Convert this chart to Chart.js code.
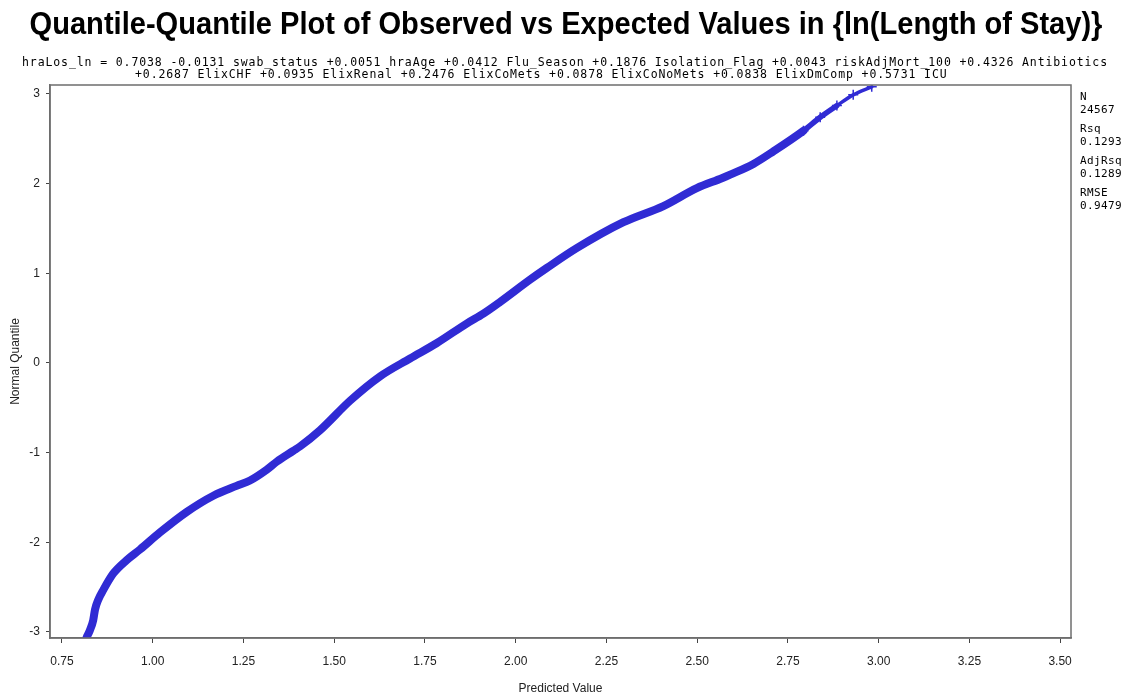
<!DOCTYPE html>
<html>
<head>
<meta charset="utf-8">
<title>Q-Q plot: ln(Length of Stay)</title>
<script src="https://cdn.jsdelivr.net/npm/chart.js@4.4.1/dist/chart.umd.min.js"></script>
<style>
  html, body { margin: 0; padding: 0; background: #ffffff; }
  canvas { display: block; }
</style>
</head>
<body>
<canvas id="qq" width="1131" height="696"></canvas>
<script>
// Sorted predicted values and the matching normal quantiles
const predictedValue = [0.818, 0.827, 0.836, 0.841, 0.850, 0.864, 0.891, 0.928, 0.965, 1.020,
                        1.094, 1.167, 1.231, 1.268, 1.314, 1.342, 1.387, 1.406, 1.461, 1.544,
                        1.626, 1.709, 1.782, 1.865, 1.911, 1.957, 2.040, 2.086, 2.168, 2.297,
                        2.407, 2.499, 2.568, 2.591, 2.655, 2.710, 2.793, 2.839, 2.885,
                        2.930, 2.981];
const normalQuantile = [-3.06, -2.98, -2.87, -2.75, -2.64, -2.53, -2.35, -2.20, -2.08, -1.89,
                        -1.66, -1.48, -1.37, -1.31, -1.19, -1.10, -0.98, -0.93, -0.75, -0.42,
                        -0.15, 0.05, 0.22, 0.44, 0.55, 0.68, 0.93, 1.06, 1.28, 1.57,
                        1.75, 1.95, 2.06, 2.10, 2.22, 2.36, 2.59, 2.74, 2.87,
                        2.99, 3.08];

const xTicks = [0.75, 1.00, 1.25, 1.50, 1.75, 2.00, 2.25, 2.50, 2.75, 3.00, 3.25, 3.50];
const yTicks = [-3, -2, -1, 0, 1, 2, 3];

const chartTitle = "Quantile-Quantile Plot of Observed vs Expected Values in {ln(Length of Stay)}";
const modelLines = [
  "hraLos_ln = 0.7038 -0.0131 swab_status +0.0051 hraAge +0.0412 Flu_Season +0.1876 Isolation_Flag +0.0043 riskAdjMort_100 +0.4326 Antibiotics",
  "+0.2687 ElixCHF +0.0935 ElixRenal +0.2476 ElixCoMets +0.0878 ElixCoNoMets +0.0838 ElixDmComp +0.5731 ICU"
];
const fitStatLabels = ["N", "Rsq", "AdjRsq", "RMSE"];
const fitStatValues = ["24567", "0.1293", "0.1289", "0.9479"];

const BLUE = "#302bd4";
const AXIS = "#6e6e6e";
const SANS = '"Liberation Sans", Arial, Helvetica, sans-serif';
const MONO = '"DejaVu Sans Mono", "Liberation Mono", monospace';

// Frame, title, model equation and fit statistics
const decorations = {
  id: "decorations",
  afterDraw(chart) {
    const c = chart.ctx;
    const a = chart.chartArea;
    c.save();

    c.strokeStyle = AXIS;
    c.lineWidth = 1.5;
    c.strokeRect(a.left, a.top, a.right - a.left, a.bottom - a.top);

    // title, sized to span the plot width
    c.fillStyle = "#000";
    c.font = "bold 100px " + SANS;
    const tw = c.measureText(chartTitle).width;
    const tSize = 100 * 1073 / tw;
    c.font = "bold " + tSize.toFixed(2) + "px " + SANS;
    c.textAlign = "center";
    c.textBaseline = "middle";
    c.save();
    c.translate(566, 25);
    c.scale(1, 1.1);
    c.fillText(chartTitle, 0, 0);
    c.restore();

    // model equation in two lines with a shared letter pitch
    c.font = "11.5px " + MONO;
    c.textAlign = "left";
    c.textBaseline = "middle";
    const natural = c.measureText(modelLines[0]).width;
    const spacing = (1086 - natural) / modelLines[0].length;
    c.letterSpacing = spacing.toFixed(3) + "px";
    const starts = [22, 135];
    const rows = [63, 75];
    modelLines.forEach((line, i) => c.fillText(line, starts[i], rows[i]));

    // fit statistics on the right
    c.font = "11px " + MONO;
    c.letterSpacing = "0.4px";
    let y = 97;
    fitStatLabels.forEach((lab, i) => {
      c.fillText(lab, a.right + 9, y);
      c.fillText(fitStatValues[i], a.right + 9, y + 13);
      y += 32;
    });
    c.restore();
  }
};

const points = predictedValue.map((x, i) => ({ x: x, y: normalQuantile[i] }));

new Chart(document.getElementById("qq"), {
  type: "scatter",
  data: {
    datasets: [{
      data: points,
      showLine: true,
      borderColor: BLUE,
      borderWidth: 8,
      borderCapStyle: "round",
      borderJoinStyle: "round",
      cubicInterpolationMode: "monotone",
      segment: {
        borderWidth: s => (s.p0.parsed.y > 2.85 ? 3.5 : (s.p0.parsed.y > 2.55 ? 5.5 : 8))
      },
      pointStyle: "cross",
      pointRadius: p => (p.raw && p.raw.y > 2.55 ? 5 : 0),
      pointHoverRadius: 0,
      pointBorderColor: BLUE,
      pointBorderWidth: 1.5
    }]
  },
  options: {
    responsive: false,
    animation: false,
    events: [],
    layout: { padding: { top: 85, right: 60, left: 0, bottom: 0 } },
    plugins: { legend: { display: false }, tooltip: { enabled: false } },
    scales: {
      x: {
        type: "linear",
        min: 0.717,
        max: 3.53,
        afterBuildTicks: s => { s.ticks = xTicks.map(v => ({ value: v })); },
        afterFit: s => { s.height = 58; },
        ticks: {
          callback: v => Number(v).toFixed(2),
          font: { family: SANS, size: 12 },
          color: "#222",
          padding: 11,
          maxRotation: 0,
          autoSkip: false
        },
        grid: { display: true, drawOnChartArea: false, drawTicks: true, tickLength: 5, color: "#444", lineWidth: 1 },
        border: { display: true, color: AXIS, width: 1.5 },
        title: { display: true, text: "Predicted Value", font: { family: SANS, size: 12 }, color: "#222", padding: { top: 0, bottom: 0 } }
      },
      y: {
        type: "linear",
        min: -3.067,
        max: 3.10,
        afterBuildTicks: s => { s.ticks = yTicks.map(v => ({ value: v })); },
        afterFit: s => { s.width = 50; },
        ticks: {
          callback: v => String(v),
          font: { family: SANS, size: 12 },
          color: "#222",
          padding: 6,
          autoSkip: false
        },
        grid: { display: true, drawOnChartArea: false, drawTicks: true, tickLength: 4, color: "#444", lineWidth: 1 },
        border: { display: true, color: AXIS, width: 1.5 },
        title: { display: true, text: "Normal Quantile", font: { family: SANS, size: 12 }, color: "#222", padding: { top: 8, bottom: 0 } }
      }
    }
  },
  plugins: [decorations]
});
</script>
</body>
</html>
